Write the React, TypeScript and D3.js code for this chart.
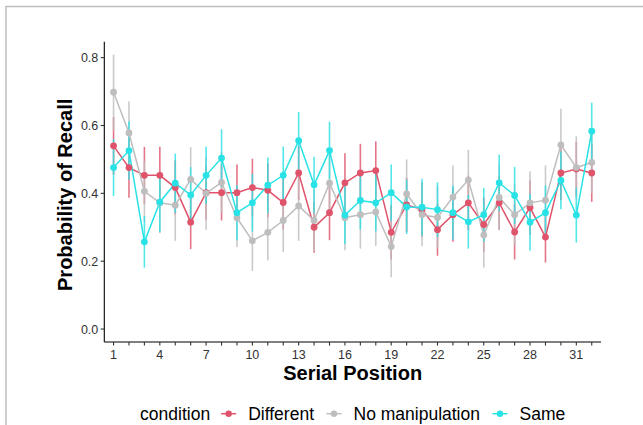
import React, { useEffect, useRef } from "react";
import * as d3 from "d3";

const serialPositions = [1, 2, 3, 4, 5, 6, 7, 8, 9, 10, 11, 12, 13, 14, 15, 16, 17, 18, 19, 20, 21, 22, 23, 24, 25, 26, 27, 28, 29, 30, 31, 32];
const xTickLabels = [1, 4, 7, 10, 13, 16, 19, 22, 25, 28, 31];
const yTicks = [0, 0.2, 0.4, 0.6, 0.8];
const conditions = ["Different", "No manipulation", "Same"];
const colors = ["#DF536B", "#BEBEBE", "#28E2E5"];

const differentMean = [0.540, 0.476, 0.453, 0.453, 0.417, 0.315, 0.402, 0.402, 0.402, 0.417, 0.409, 0.373, 0.460, 0.300, 0.343, 0.431, 0.460, 0.467, 0.285, 0.366, 0.352, 0.293, 0.337, 0.372, 0.308, 0.372, 0.286, 0.358, 0.271, 0.460, 0.472, 0.460];
const differentSE = [0.085, 0.089, 0.084, 0.084, 0.080, 0.079, 0.080, 0.082, 0.083, 0.085, 0.080, 0.080, 0.080, 0.075, 0.081, 0.087, 0.086, 0.086, 0.080, 0.080, 0.080, 0.077, 0.080, 0.080, 0.080, 0.080, 0.081, 0.080, 0.075, 0.080, 0.080, 0.085];

const noManipMean = [0.698, 0.578, 0.406, 0.372, 0.365, 0.441, 0.400, 0.432, 0.328, 0.260, 0.285, 0.320, 0.363, 0.320, 0.430, 0.328, 0.337, 0.345, 0.243, 0.398, 0.337, 0.329, 0.389, 0.439, 0.277, 0.388, 0.337, 0.372, 0.380, 0.543, 0.476, 0.491];
const noManipSE = [0.111, 0.093, 0.090, 0.090, 0.105, 0.095, 0.107, 0.090, 0.086, 0.089, 0.082, 0.093, 0.103, 0.090, 0.090, 0.096, 0.100, 0.100, 0.090, 0.102, 0.093, 0.090, 0.093, 0.089, 0.096, 0.097, 0.090, 0.093, 0.102, 0.106, 0.092, 0.090];

const sameMean = [0.476, 0.526, 0.257, 0.374, 0.430, 0.395, 0.453, 0.504, 0.343, 0.372, 0.424, 0.453, 0.555, 0.425, 0.526, 0.336, 0.379, 0.372, 0.402, 0.360, 0.359, 0.352, 0.343, 0.316, 0.337, 0.431, 0.394, 0.315, 0.343, 0.438, 0.336, 0.583];
const sameSE = [0.084, 0.086, 0.076, 0.088, 0.087, 0.082, 0.084, 0.085, 0.081, 0.085, 0.082, 0.085, 0.085, 0.083, 0.085, 0.085, 0.085, 0.084, 0.083, 0.080, 0.084, 0.081, 0.080, 0.079, 0.079, 0.083, 0.084, 0.084, 0.080, 0.085, 0.081, 0.084];

const means = [differentMean, noManipMean, sameMean];
const ses = [differentSE, noManipSE, sameSE];

const FONT = "'Liberation Sans', Arial, Helvetica, sans-serif";

export default function App() {
  const ref = useRef<SVGSVGElement>(null);

  useEffect(() => {
    const svg = d3.select(ref.current);
    svg.selectAll("*").remove();

    const x = d3.scaleLinear().domain([0.4, 32.6]).range([104.3, 601]);
    const y = d3.scaleLinear().domain([-0.0382, 0.847]).range([342, 41.7]);

    // outer frame
    svg.append("path")
      .attr("d", "M6,425 V6.5 H643")
      .attr("fill", "none")
      .attr("stroke", "#bdbdbd")
      .attr("stroke-width", 1.5);

    const series = conditions.map((name, i) => ({
      name,
      color: colors[i],
      pts: serialPositions.map((p, j) => ({ p, m: means[i][j], se: ses[i][j] })),
    }));

    const plot = svg.append("g");

    // error bars
    series.forEach((s) => {
      plot.append("g")
        .selectAll("line")
        .data(s.pts)
        .enter()
        .append("line")
        .attr("x1", (d) => x(d.p))
        .attr("x2", (d) => x(d.p))
        .attr("y1", (d) => y(d.m - d.se))
        .attr("y2", (d) => y(d.m + d.se))
        .attr("stroke", s.color)
        .attr("stroke-width", 1.6)
        .attr("opacity", 0.8);
    });

    // lines
    const line = d3.line<{ p: number; m: number }>()
      .x((d) => x(d.p))
      .y((d) => y(d.m));
    series.forEach((s) => {
      plot.append("path")
        .attr("d", line(s.pts) as string)
        .attr("fill", "none")
        .attr("stroke", s.color)
        .attr("stroke-width", 1.5);
    });

    // points
    series.forEach((s) => {
      plot.append("g")
        .selectAll("circle")
        .data(s.pts)
        .enter()
        .append("circle")
        .attr("cx", (d) => x(d.p))
        .attr("cy", (d) => y(d.m))
        .attr("r", 3.4)
        .attr("fill", s.color);
    });

    // axes
    const axisColor = "#000";
    const tickColor = "#333";
    const labelColor = "#333";
    const [x0, x1] = x.range();
    const [yb, yt] = y.range();

    svg.append("line")
      .attr("x1", x0).attr("x2", x1).attr("y1", yb).attr("y2", yb)
      .attr("stroke", axisColor).attr("stroke-width", 1.1);
    svg.append("line")
      .attr("x1", x0).attr("x2", x0).attr("y1", yb).attr("y2", yt)
      .attr("stroke", axisColor).attr("stroke-width", 1.1);

    // x ticks
    const xt = svg.append("g");
    xt.selectAll("line")
      .data(serialPositions)
      .enter()
      .append("line")
      .attr("x1", (d) => x(d)).attr("x2", (d) => x(d))
      .attr("y1", yb).attr("y2", yb + 3.6)
      .attr("stroke", tickColor).attr("stroke-width", 1.1);
    xt.selectAll("text")
      .data(xTickLabels)
      .enter()
      .append("text")
      .attr("x", (d) => x(d))
      .attr("y", 358.5)
      .attr("text-anchor", "middle")
      .attr("font-family", FONT)
      .attr("font-size", 12.5)
      .attr("fill", labelColor)
      .text((d) => String(d));

    // y ticks
    const ytg = svg.append("g");
    ytg.selectAll("line")
      .data(yTicks)
      .enter()
      .append("line")
      .attr("x1", x0 - 3.6).attr("x2", x0)
      .attr("y1", (d) => y(d)).attr("y2", (d) => y(d))
      .attr("stroke", tickColor).attr("stroke-width", 1.1);
    ytg.selectAll("text")
      .data(yTicks)
      .enter()
      .append("text")
      .attr("x", x0 - 6)
      .attr("y", (d) => y(d))
      .attr("dy", "0.36em")
      .attr("text-anchor", "end")
      .attr("font-family", FONT)
      .attr("font-size", 12.5)
      .attr("fill", labelColor)
      .text((d) => d3.format(".1f")(d));

    // axis titles
    svg.append("text")
      .attr("x", (x0 + x1) / 2)
      .attr("y", 379.5)
      .attr("text-anchor", "middle")
      .attr("font-family", FONT)
      .attr("font-weight", "bold")
      .attr("font-size", 20)
      .attr("fill", "#000")
      .text("Serial Position");

    svg.append("text")
      .attr("transform", `translate(71.5,${(yb + yt) / 2 + 3}) rotate(-90)`)
      .attr("text-anchor", "middle")
      .attr("font-family", FONT)
      .attr("font-weight", "bold")
      .attr("font-size", 20)
      .attr("fill", "#000")
      .text("Probability of Recall");

    // legend
    const legend = svg.append("g");
    const baseY = 420;
    const keyY = 413.7;
    const fs = 17.5;
    let cx = 0;
    const title = legend.append("text")
      .attr("x", cx).attr("y", baseY)
      .attr("font-family", FONT).attr("font-size", fs).attr("fill", "#000")
      .text("condition");
    cx += (title.node() as SVGTextElement).getComputedTextLength() + 10;
    series.forEach((s, i) => {
      const kw = 17;
      legend.append("line")
        .attr("x1", cx + 1).attr("x2", cx + kw - 1)
        .attr("y1", keyY).attr("y2", keyY)
        .attr("stroke", s.color).attr("stroke-width", 1.5);
      legend.append("circle")
        .attr("cx", cx + kw / 2).attr("cy", keyY).attr("r", 3.2)
        .attr("fill", s.color);
      cx += kw + 11;
      const t = legend.append("text")
        .attr("x", cx).attr("y", baseY)
        .attr("font-family", FONT).attr("font-size", fs).attr("fill", "#000")
        .text(s.name);
      cx += (t.node() as SVGTextElement).getComputedTextLength();
      if (i < series.length - 1) cx += 11.5;
    });
    const center = (x0 + x1) / 2;
    legend.attr("transform", `translate(${center - cx / 2},0)`);
  }, []);

  return (
    <div style={{ position: "absolute", left: 0, top: 0 }}>
      <svg ref={ref} width={643} height={425} style={{ display: "block", background: "#fff" }} />
    </div>
  );
}
